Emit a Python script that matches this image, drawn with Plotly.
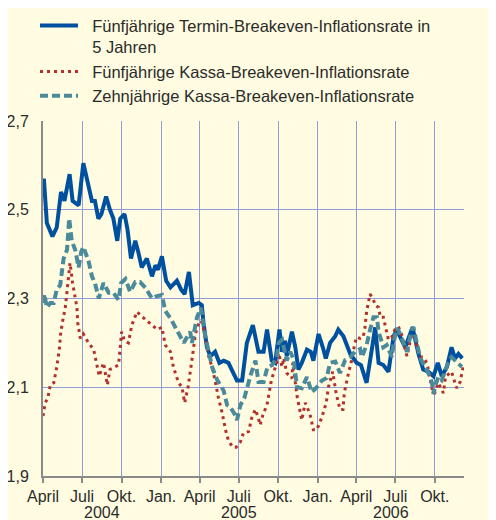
import plotly.graph_objects as go

# ---------------- data ----------------
blue_dates = ["2004-04-01","2004-04-03","2004-04-10","2004-04-23","2004-05-03","2004-05-13","2004-05-21","2004-06-02","2004-06-09","2004-06-23",
              "2004-07-04","2004-07-16","2004-07-24","2004-07-31","2004-08-08","2004-08-15","2004-08-26","2004-09-04","2004-09-12","2004-09-21",
              "2004-09-28","2004-10-08","2004-10-15","2004-10-23","2004-11-02","2004-11-09","2004-11-17","2004-11-29","2004-12-11","2004-12-19",
              "2004-12-25","2005-01-03","2005-01-13","2005-01-23","2005-02-07","2005-02-17","2005-02-25","2005-03-07","2005-03-16","2005-03-30",
              "2005-04-06","2005-04-10","2005-04-18","2005-04-26","2005-05-07","2005-05-17","2005-05-27","2005-06-07","2005-06-17","2005-06-27",
              "2005-07-09","2005-07-20","2005-08-03","2005-08-16","2005-08-28","2005-09-05","2005-09-16","2005-09-24","2005-10-04","2005-10-10",
              "2005-10-17","2005-10-21","2005-11-02","2005-11-10","2005-11-17","2005-11-25","2005-12-07","2005-12-16","2005-12-22","2006-01-03",
              "2006-01-13","2006-01-20","2006-01-30","2006-02-11","2006-02-18","2006-03-02","2006-03-18","2006-04-02","2006-04-12","2006-04-25",
              "2006-05-08","2006-05-15","2006-05-23","2006-06-03","2006-06-15","2006-06-27","2006-07-04","2006-07-14","2006-07-24","2006-08-10",
              "2006-08-24","2006-09-04","2006-09-16","2006-09-28","2006-10-08","2006-10-17","2006-10-29","2006-11-09","2006-11-17","2006-11-25",
              "2006-12-04"]
blue_values = [2.55,2.57,2.47,2.44,2.46,2.54,2.52,2.58,2.52,2.51,
               2.605,2.55,2.52,2.52,2.48,2.49,2.53,2.50,2.48,2.43,
               2.48,2.49,2.455,2.39,2.43,2.405,2.37,2.39,2.35,2.375,
               2.365,2.395,2.34,2.325,2.34,2.32,2.31,2.36,2.285,2.29,
               2.285,2.245,2.19,2.17,2.18,2.155,2.16,2.155,2.135,2.115,
               2.115,2.20,2.24,2.18,2.18,2.23,2.16,2.155,2.23,2.18,
               2.205,2.17,2.225,2.19,2.14,2.155,2.185,2.18,2.16,2.22,
               2.19,2.165,2.20,2.215,2.23,2.215,2.175,2.155,2.15,2.11,
               2.19,2.235,2.155,2.15,2.135,2.215,2.23,2.21,2.19,2.235,
               2.175,2.14,2.135,2.125,2.155,2.125,2.145,2.19,2.165,2.175,
               2.165]

red_dates = ["2004-04-01","2004-04-06","2004-04-12","2004-04-18","2004-04-26","2004-05-03","2004-05-09","2004-05-12","2004-05-16","2004-05-23",
             "2004-05-29","2004-06-03","2004-06-09","2004-06-15","2004-06-19","2004-06-21","2004-06-27","2004-07-04","2004-07-16","2004-07-28",
             "2004-08-04","2004-08-10","2004-08-20","2004-08-29","2004-09-04","2004-09-16","2004-09-24","2004-09-28","2004-10-01","2004-10-08",
             "2004-10-17","2004-10-25","2004-11-06","2004-11-17","2004-11-28","2004-12-11","2004-12-23","2005-01-03","2005-01-11","2005-01-23",
             "2005-01-30","2005-02-06","2005-02-11","2005-02-19","2005-02-25","2005-03-05","2005-03-10","2005-03-16","2005-03-22","2005-03-30",
             "2005-04-05","2005-04-13","2005-04-22","2005-04-30","2005-05-07","2005-05-15","2005-05-24","2005-05-31","2005-06-07","2005-06-17",
             "2005-06-25","2005-07-05","2005-07-12","2005-07-24","2005-08-01","2005-08-09","2005-08-16","2005-08-20","2005-08-27","2005-09-05",
             "2005-09-15","2005-09-28","2005-10-02","2005-10-10","2005-10-14","2005-10-21","2005-11-02","2005-11-04","2005-11-14","2005-11-25",
             "2005-12-03","2005-12-14","2005-12-22","2005-12-30","2006-01-11","2006-01-21","2006-01-26","2006-02-05","2006-02-13","2006-02-22",
             "2006-03-01","2006-03-04","2006-03-12","2006-03-21","2006-03-29","2006-04-02","2006-04-10","2006-04-17","2006-04-21","2006-04-25",
             "2006-04-29","2006-05-03","2006-05-11","2006-05-15","2006-05-23","2006-05-27","2006-06-03","2006-06-11","2006-06-15","2006-06-23",
             "2006-06-30","2006-07-08","2006-07-16","2006-07-24","2006-07-28","2006-08-08","2006-08-16","2006-08-20","2006-08-28","2006-09-04",
             "2006-09-12","2006-09-16","2006-09-20","2006-09-24","2006-09-30","2006-10-09","2006-10-21","2006-10-26","2006-11-05","2006-11-09",
             "2006-11-15","2006-11-21","2006-11-29","2006-12-06"]
red_values = [2.035,2.065,2.075,2.105,2.11,2.145,2.185,2.22,2.245,2.28,
              2.335,2.38,2.335,2.305,2.28,2.245,2.21,2.22,2.20,2.185,
              2.155,2.125,2.155,2.105,2.14,2.145,2.15,2.19,2.225,2.205,
              2.20,2.24,2.27,2.26,2.25,2.24,2.23,2.235,2.195,2.18,
              2.145,2.125,2.11,2.10,2.065,2.10,2.14,2.175,2.22,2.245,
              2.25,2.22,2.17,2.145,2.115,2.075,2.04,2.005,1.98,1.965,
              1.965,1.977,1.997,2.0,2.033,2.05,2.03,2.015,2.04,2.06,
              2.115,2.157,2.177,2.146,2.166,2.132,2.12,2.155,2.08,2.026,
              2.065,2.04,2.004,2.004,2.033,2.065,2.10,2.135,2.087,2.05,
              2.05,2.087,2.124,2.16,2.20,2.213,2.21,2.213,2.233,2.27,
              2.29,2.31,2.297,2.285,2.28,2.258,2.258,2.225,2.207,2.213,
              2.23,2.237,2.218,2.185,2.17,2.218,2.213,2.19,2.168,2.168,
              2.155,2.14,2.12,2.098,2.085,2.11,2.087,2.124,2.132,2.135,
              2.116,2.098,2.112,2.146]

teal_dates = ["2004-04-01","2004-04-04","2004-04-10","2004-04-18","2004-04-26","2004-05-03","2004-05-11","2004-05-19","2004-05-27","2004-06-01",
              "2004-06-07","2004-06-15","2004-06-23","2004-06-29","2004-07-04","2004-07-16","2004-07-24","2004-07-31","2004-08-09","2004-08-20",
              "2004-09-01","2004-09-12","2004-09-24","2004-09-30","2004-10-10","2004-10-21","2004-11-02","2004-11-13","2004-11-26","2004-12-11",
              "2004-12-21","2005-01-03","2005-01-11","2005-01-25","2005-02-09","2005-02-23","2005-03-10","2005-03-14","2005-03-26","2005-04-04",
              "2005-04-14","2005-04-22","2005-04-30","2005-05-12","2005-05-27","2005-06-04","2005-06-11","2005-06-23","2005-06-27","2005-07-05",
              "2005-07-14","2005-07-28","2005-08-09","2005-08-16","2005-08-28","2005-09-06","2005-09-17","2005-09-28","2005-10-02","2005-10-10",
              "2005-10-14","2005-10-21","2005-10-29","2005-11-06","2005-11-14","2005-11-25","2005-12-07","2005-12-18","2005-12-30","2006-01-11",
              "2006-01-22","2006-01-30","2006-02-11","2006-02-22","2006-03-06","2006-03-18","2006-03-29","2006-04-10","2006-04-14","2006-04-25",
              "2006-05-03","2006-05-11","2006-05-19","2006-05-23","2006-06-03","2006-06-11","2006-06-23","2006-06-27","2006-07-04","2006-07-08",
              "2006-07-20","2006-07-28","2006-08-08","2006-08-12","2006-08-20","2006-08-28","2006-09-08","2006-09-16","2006-09-24","2006-09-28",
              "2006-10-01","2006-10-09","2006-10-17","2006-10-25","2006-11-01","2006-11-09","2006-11-17","2006-11-25","2006-12-03"]
teal_values = [2.29,2.31,2.28,2.29,2.29,2.32,2.33,2.39,2.41,2.48,
               2.43,2.41,2.37,2.405,2.416,2.385,2.35,2.335,2.30,2.335,
               2.313,2.313,2.297,2.335,2.344,2.315,2.337,2.337,2.324,2.30,
               2.305,2.308,2.272,2.252,2.225,2.20,2.225,2.20,2.258,2.279,
               2.215,2.177,2.146,2.116,2.092,2.06,2.056,2.037,2.026,2.06,
               2.075,2.125,2.16,2.112,2.112,2.145,2.15,2.168,2.20,2.207,
               2.19,2.16,2.18,2.163,2.10,2.098,2.123,2.089,2.10,2.115,
               2.121,2.155,2.158,2.132,2.161,2.168,2.18,2.186,2.168,2.195,
               2.229,2.258,2.258,2.225,2.19,2.195,2.168,2.20,2.233,2.229,
               2.20,2.18,2.229,2.236,2.20,2.166,2.146,2.132,2.112,2.085,
               2.10,2.123,2.116,2.139,2.155,2.168,2.161,2.155,2.146]

assert len(blue_dates) == len(blue_values)
assert len(red_dates) == len(red_values)
assert len(teal_dates) == len(teal_values)

PAD = "\u00a0\u00a0"
series_names = [PAD + "Fünfjährige Termin-Breakeven-Inflationsrate in<br>" + PAD + "5 Jahren",
                PAD + "Fünfjährige Kassa-Breakeven-Inflationsrate",
                PAD + "Zehnjährige Kassa-Breakeven-Inflationsrate"]

x_tick_dates = ["2004-04-01","2004-07-01","2004-10-01","2005-01-01","2005-04-01","2005-07-01",
                "2005-10-01","2006-01-01","2006-04-01","2006-07-01","2006-10-01"]
x_tick_labels = ["April","Juli","Okt.","Jan.","April","Juli","Okt.","Jan.","April","Juli","Okt."]
year_labels = ["2004","2005","2006"]
year_centers = ["2004-08-16","2005-07-02","2006-06-20"]
y_ticks = [1.9, 2.1, 2.3, 2.5, 2.7]

# ---------------- style ----------------
BG = "#FFFCE1"
GRID = "#919DD8"
AXIS = "#8A8A8A"
TXT = "#2B2B2B"
FONT = "Liberation Sans"

fig = go.Figure()
fig.add_trace(go.Scatter(x=blue_dates, y=blue_values, mode="lines", name=series_names[0],
                         line=dict(color="#0050A0", width=4)))
fig.add_trace(go.Scatter(x=red_dates, y=red_values, mode="lines", name=series_names[1],
                         line=dict(color="#B3302C", width=3, dash="3px,4px")))
fig.add_trace(go.Scatter(x=teal_dates, y=teal_values, mode="lines", name=series_names[2],
                         line=dict(color="#4A8A9B", width=4, dash="8px,4px")))

for yr, xc in zip(year_labels, year_centers):
    fig.add_annotation(x=xc, y=-0.104, xref="x", yref="paper", text=yr, showarrow=False,
                       font=dict(family=FONT, size=16, color=TXT), yanchor="middle")

fig.update_layout(
    width=496, height=520,
    margin=dict(l=35, r=40, t=113, b=52, autoexpand=False),
    paper_bgcolor=BG, plot_bgcolor=BG,
    font=dict(family=FONT, size=16, color=TXT),
    separators=",.",
    showlegend=True,
    legend=dict(x=-0.019, y=1.3175, xanchor="left", yanchor="top",
                bgcolor="rgba(0,0,0,0)", font=dict(family=FONT, size=16.5, color=TXT),
                valign="top", tracegroupgap=0, itemwidth=38),
    xaxis=dict(type="date", range=["2004-04-01", "2006-12-08"],
               tickvals=x_tick_dates, ticktext=x_tick_labels, tickangle=0,
               showgrid=True, gridcolor=GRID, gridwidth=1,
               showline=True, linecolor=AXIS, linewidth=2,
               ticks="outside", ticklen=5, tickcolor=AXIS, tickwidth=2,
               tickfont=dict(family=FONT, size=16, color=TXT), zeroline=False),
    yaxis=dict(range=[1.9, 2.7], tickvals=y_ticks, tickformat=".1f",
               showgrid=True, gridcolor=GRID, gridwidth=1,
               showline=True, linecolor=AXIS, linewidth=2, ticks="",
               tickfont=dict(family=FONT, size=16, color=TXT), zeroline=False,
               ticklabelstandoff=9),
    yaxis2=dict(range=[1.9, 2.7], tickvals=y_ticks, tickformat=".1f", overlaying="y", side="right",
                showgrid=False, showline=True, linecolor=AXIS, linewidth=2, ticks="",
                tickfont=dict(family=FONT, size=16, color=TXT), zeroline=False,
                ticklabelstandoff=6),
)

fig.write_html("out.html")
